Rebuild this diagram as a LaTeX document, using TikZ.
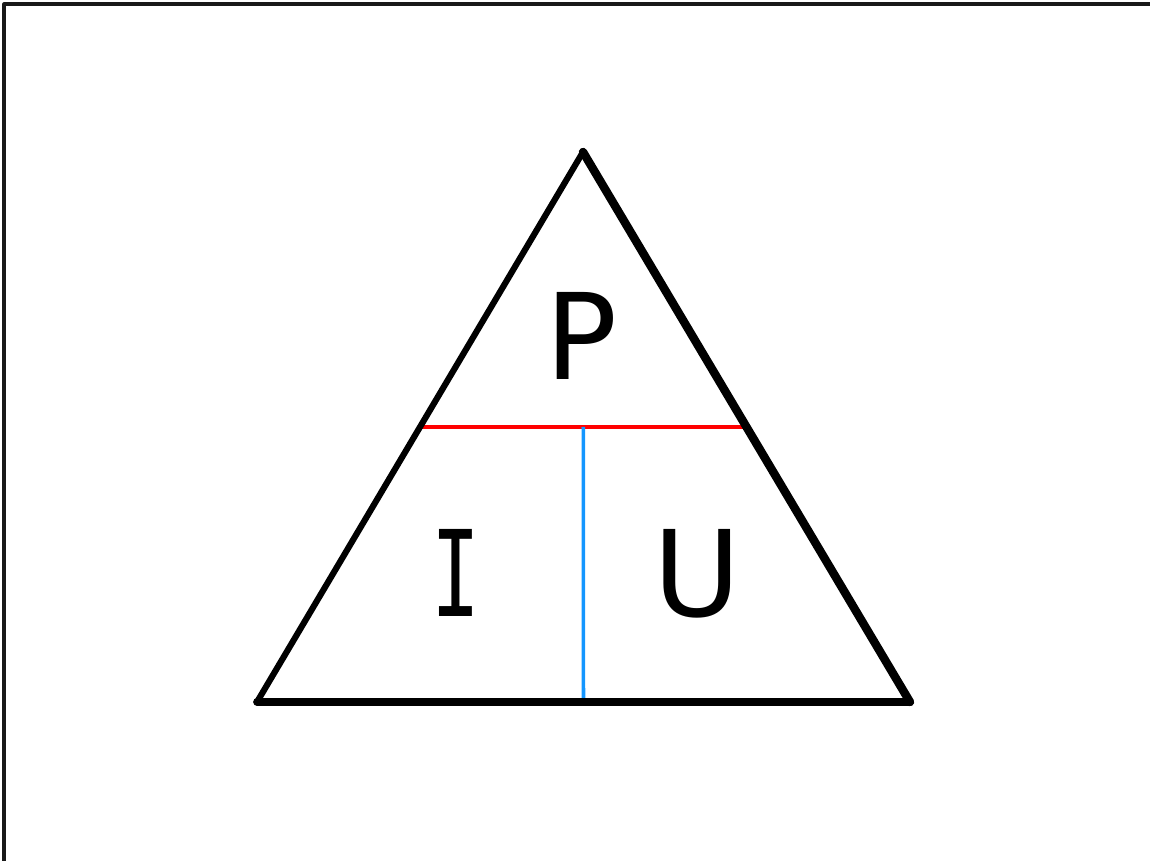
\documentclass[tikz,border=0pt]{standalone}
\usepackage{fontspec}
\usetikzlibrary{calc}
\newfontfamily\lettfont{DejaVu Sans}
\newfontfamily\barfont{DejaVu Sans Mono}
\definecolor{splitred}{RGB}{255,0,0}
\definecolor{splitblue}{RGB}{20,150,255}
\begin{document}
\begin{tikzpicture}[x=0.02cm,y=-0.02cm,line join=round,line cap=round,
  letter/.style={anchor=base,font=\lettfont\fontsize{68}{70}\selectfont,inner sep=0pt}]
\useasboundingbox (0,0) rectangle (1150,861);
\draw[line width=1.8pt,color=black!90,line cap=butt] (4,861)--(4,4)--(1150,4);
% triangle corners
\coordinate (apex) at (583,152);
\coordinate (bl) at (257,702);
\coordinate (br) at (910,702);
\coordinate (ml) at ($(bl)!0.5!(apex)$);
\coordinate (mr) at ($(br)!0.5!(apex)$);
\coordinate (mtop) at ($(ml)!0.5!(mr)$);
\coordinate (mbot) at ($(bl)!0.5!(br)$);
\draw[splitred,line width=2.4pt,line cap=butt] (ml)--(mr);
\draw[splitblue,line width=2pt,line cap=butt] (mtop)--(mbot);
\draw[line width=3.5pt] (bl)--(apex);
\draw[line width=4.8pt] (apex)--(br);
\draw[line width=4.4pt] (bl)--(br);
\node[letter] (p) at (582,380) {P};
\node[letter] (i) at (456,616) {\barfont\scalebox{0.68}[1]{I}};
\node[letter] (u) at (697,616) {U};
\end{tikzpicture}
\end{document}
